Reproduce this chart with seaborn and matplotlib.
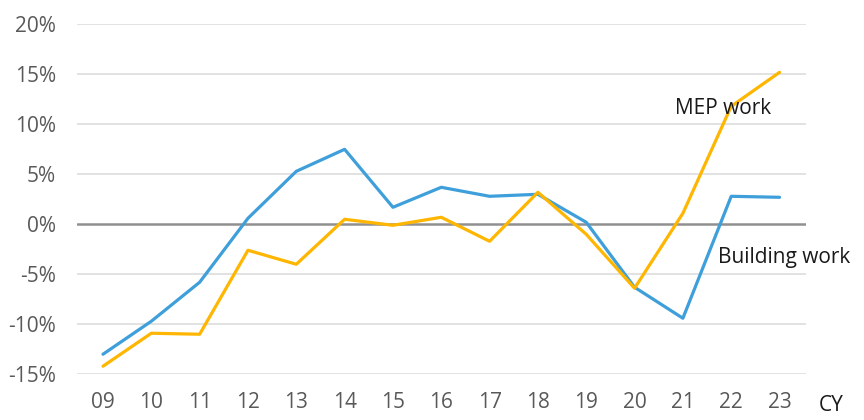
import matplotlib
matplotlib.use("Agg")
import matplotlib.pyplot as plt
import matplotlib.transforms as mtransforms
import numpy as np
import pandas as pd
import seaborn as sns

# data (% change per calendar year)
years = ['09', '10', '11', '12', '13', '14', '15', '16', '17', '18', '19', '20', '21', '22', '23']
building_work = [-13.0, -9.7, -5.8, 0.6, 5.3, 7.5, 1.7, 3.7, 2.8, 3.0, 0.2, -6.3, -9.4, 2.8, 2.7]
mep_work = [-14.2, -10.9, -11.0, -2.6, -4.0, 0.5, -0.1, 0.7, -1.7, 3.2, -1.0, -6.4, 1.1, 11.8, 15.2]
y_ticks = [-15, -10, -5, 0, 5, 10, 15, 20]

df = pd.DataFrame({
    'idx': list(range(len(years))) * 2,
    'value': building_work + mep_work,
    'series': ['Building work'] * len(years) + ['MEP work'] * len(years),
})

sns.set_style('white')
plt.rcParams['font.family'] = ['Open Sans', 'DejaVu Sans']

fig = plt.figure(figsize=(8.64, 4.2), dpi=100)
ax = fig.add_axes([0.089, 0.109, 0.844, 0.833])

# light horizontal gridlines, darker zero line
for t in y_ticks:
    if t == 0:
        continue
    ax.axhline(t, color='#dddddd', linewidth=1.2, zorder=0)
ax.axhline(0, color='#909090', linewidth=1.8, zorder=1)

palette = {'Building work': '#3e9fdb', 'MEP work': '#ffb600'}
sns.lineplot(data=df, x='idx', y='value', hue='series', palette=palette,
             linewidth=2.3, legend=False, ax=ax, zorder=3)

ax.set_xlim(-0.54, len(years) - 0.45)
ax.set_ylim(-15, 20)
ax.set_xticks(range(len(years)))
ax.set_xticklabels(years)
ax.set_yticks(y_ticks)
ax.set_yticklabels([f'{t}%' for t in y_ticks])
ax.tick_params(axis='x', length=0, pad=13, labelsize=15, labelcolor='#595959')
ax.tick_params(axis='y', length=0, pad=15, labelsize=15, labelcolor='#595959')
ax.set_xlabel('')
ax.set_ylabel('')
for s in ax.spines.values():
    s.set_visible(False)

# series labels
ax.text(11.84, 11.6, 'MEP work', fontsize=15, color='#1a1a1a', va='center', ha='left', zorder=4)
ax.text(12.72, -3.3, 'Building work', fontsize=15, color='#1a1a1a', va='center', ha='left', zorder=4)

# axis unit label
trans = mtransforms.blended_transform_factory(ax.transData, ax.transAxes)
ax.text(15.07, -0.09, 'CY', transform=trans, fontsize=15, color='#1a1a1a',
        ha='center', va='center', clip_on=False)

fig.savefig('out.png', dpi=100)
